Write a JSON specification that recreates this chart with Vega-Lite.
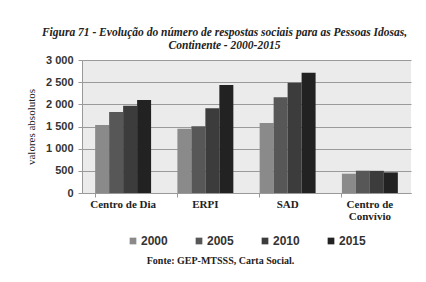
{
  "$schema": "https://vega.github.io/schema/vega-lite/v6.json",
  "width": 329,
  "height": 133,
  "autosize": {"type": "none"},
  "padding": {"left": 82, "top": 60, "right": 15, "bottom": 89},
  "background": "white",
  "title": {
    "text": "Fonte: GEP-MTSSS, Carta Social.",
    "orient": "bottom",
    "anchor": "middle",
    "frame": "group",
    "dx": -26,
    "offset": 9,
    "font": "Liberation Serif",
    "fontSize": 10,
    "fontWeight": "bold",
    "color": "#222222"
  },
  "data": {
    "values": [
      {"cat": "Centro de Dia", "year": "2000", "v": 1534},
      {"cat": "Centro de Dia", "year": "2005", "v": 1827},
      {"cat": "Centro de Dia", "year": "2010", "v": 1969},
      {"cat": "Centro de Dia", "year": "2015", "v": 2098},
      {"cat": "ERPI", "year": "2000", "v": 1450},
      {"cat": "ERPI", "year": "2005", "v": 1503},
      {"cat": "ERPI", "year": "2010", "v": 1909},
      {"cat": "ERPI", "year": "2015", "v": 2436},
      {"cat": "SAD", "year": "2000", "v": 1579},
      {"cat": "SAD", "year": "2005", "v": 2157},
      {"cat": "SAD", "year": "2010", "v": 2488},
      {"cat": "SAD", "year": "2015", "v": 2714},
      {"cat": "Centro de Convívio", "year": "2000", "v": 435},
      {"cat": "Centro de Convívio", "year": "2005", "v": 503},
      {"cat": "Centro de Convívio", "year": "2010", "v": 500},
      {"cat": "Centro de Convívio", "year": "2015", "v": 465}
    ]
  },
  "config": {
    "view": {"fill": "#ebebeb", "stroke": null},
    "legend": {"layout": {"bottom": {"anchor": "middle"}}}
  },
  "encoding": {
    "xOffset": {"field": "year", "type": "nominal", "sort": ["2000", "2005", "2010", "2015"]},
    "y": {
      "field": "v",
      "type": "quantitative",
      "scale": {"domain": [0, 3000]},
      "axis": {
        "title": "valores absolutos",
        "titleFont": "Liberation Sans Narrow",
        "titleFontWeight": "normal",
        "titleFontSize": 11,
        "titleColor": "#222222",
        "titlePadding": 9,
        "values": [0, 500, 1000, 1500, 2000, 2500, 3000],
        "labelExpr": "replace(format(datum.value, ','), ',', ' ')",
        "labelFont": "Liberation Sans",
        "labelFontWeight": "bold",
        "labelFontSize": 11,
        "labelColor": "#333333",
        "labelPadding": 5,
        "domainColor": "#999999",
        "tickColor": "#999999",
        "tickSize": 4,
        "gridColor": "#9a9a9a",
        "gridWidth": 1
      }
    },
    "color": {
      "field": "year",
      "type": "nominal",
      "scale": {"domain": ["2000", "2005", "2010", "2015"], "range": ["#8a8a8a", "#575757", "#3c3c3c", "#222222"]},
      "legend": {
        "title": null,
        "orient": "bottom",
        "direction": "horizontal",
        "symbolType": "square",
        "symbolSize": 45,
        "symbolStrokeWidth": 0,
        "labelFont": "Liberation Sans",
        "labelFontWeight": "bold",
        "labelFontSize": 12,
        "labelColor": "#333333",
        "labelOffset": 2,
        "columnPadding": 25,
        "offset": 14
      }
    }
  },
  "layer": [
    {
      "mark": {"type": "bar"},
      "encoding": {
        "x": {
          "field": "cat",
          "type": "nominal",
          "sort": ["Centro de Dia", "ERPI", "SAD", "Centro de Convívio"],
          "scale": {"paddingInner": 0.32, "paddingOuter": 0.16},
          "axis": {
            "orient": "bottom",
            "title": null,
            "labelAngle": 0,
            "labelFont": "Liberation Serif",
            "labelFontWeight": "bold",
            "labelFontSize": 11,
            "labelColor": "#222222",
            "labelExpr": "datum.label == 'Centro de Convívio' ? ['Centro de', 'Convívio'] : datum.label",
            "labelLineHeight": 12,
            "labelPadding": 1,
            "domainColor": "#999999",
            "tickColor": "#999999",
            "bandPosition": 0,
            "tickSize": 4,
            "grid": false
          }
        }
      }
    },
    {
      "mark": {"type": "bar", "opacity": 0},
      "encoding": {
        "x": {
          "field": "cat",
          "type": "nominal",
          "sort": ["Centro de Dia", "ERPI", "SAD", "Centro de Convívio"],
          "axis": {
            "orient": "top",
            "title": ["Figura 71 - Evolução do número de respostas sociais para as Pessoas Idosas,", "Continente - 2000-2015"],
            "titleFont": "Liberation Serif",
            "titleFontSize": 11.5,
            "titleFontWeight": "bold",
            "titleFontStyle": "italic",
            "titleColor": "#222222",
            "titleLineHeight": 12.5,
            "titlePadding": 10,
            "titleX": 142,
            "labels": false,
            "ticks": false,
            "domain": false,
            "grid": false
          }
        }
      }
    }
  ],
  "resolve": {"axis": {"x": "independent"}}
}
